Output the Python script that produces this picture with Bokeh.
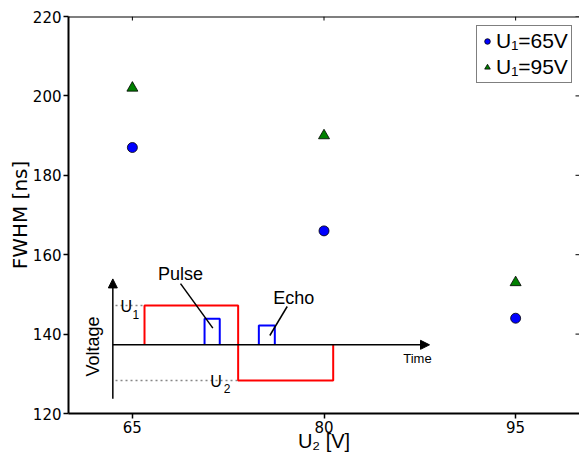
import math
from bokeh.plotting import figure
from bokeh.models import (FixedTicker, Range1d, Legend, LegendItem, Arrow, NormalHead, Span)
from bokeh.core.properties import value
from bokeh.embed import file_html
from bokeh.resources import INLINE

# ---- data ----
u2_values = [65, 80, 95]
fwhm_u1_65 = [187, 166, 144]
fwhm_u1_95 = [202, 190, 153]
x_ticks = [65, 80, 95]
y_ticks = [120, 140, 160, 180, 200, 220]
legend_labels = ["U\u2081=65V", "U\u2081=95V"]
x_min, x_max = 60, 100
y_min, y_max = 120, 220

# ---- inset schematic (drawn in data coordinates) ----
time_axis_x = [63.47, 88.26]
time_axis_y = [137.3, 137.3]
volt_axis_x = [63.47, 63.47]
volt_axis_y = [123.7, 153.9]
red_x = [65.95, 65.95, 73.28, 73.28, 80.72, 80.72]
red_y = [137.3, 147.2, 147.2, 128.3, 128.3, 137.3]
pulse_x = [70.65, 70.65, 71.84, 71.84]
pulse_y = [137.3, 143.85, 143.85, 137.3]
echo_x = [74.9, 74.9, 76.15, 76.15]
echo_y = [137.3, 142.17, 142.17, 137.3]
u1_dot_x = [63.68, 65.95]
u1_dot_y = [147.2, 147.2]
u2_dot_x = [63.68, 73.23]
u2_dot_y = [128.3, 128.3]
pulse_leader_x = [68.77, 71.3]
pulse_leader_y = [152.7, 141.5]
echo_leader_x = [77.12, 75.76]
echo_leader_y = [146.95, 139.65]
label_texts = ["Pulse", "Echo"]
label_x = [67.0, 76.02]
label_y = [153.2, 147.2]
time_label = ["Time"]
time_label_x = [86.2]
time_label_y = [132.5]
u_texts = ["U", "U"]
u_x = [64.07, 71.1]
u_y = [145.4, 126.6]
u_sub_texts = ["1", "2"]
u_sub_x = [65.0, 72.16]
u_sub_y = [143.85, 125.4]
voltage_label = ["Voltage"]
voltage_x = [61.9]
voltage_y = [136.9]

p = figure(width=579, height=456, output_backend="svg", toolbar_location=None,
           x_range=Range1d(x_min, x_max), y_range=Range1d(y_min, y_max),
           min_border_left=68, min_border_right=0, min_border_top=16,
           min_border_bottom=43)
p.background_fill_color = "white"
p.border_fill_color = "white"
p.outline_line_color = None
p.xgrid.grid_line_color = None
p.ygrid.grid_line_color = None

tick_font = "DejaVu Sans"
for ax in p.xaxis:
    ax.ticker = FixedTicker(ticks=x_ticks)
    ax.axis_label = "U\u2082 [V]"
    ax.axis_label_text_font = "Liberation Sans"
    ax.axis_label_text_font_style = "normal"
    ax.axis_label_text_font_size = "20px"
    ax.axis_label_text_color = "black"
    ax.axis_label_standoff = -6
    ax.major_label_text_font = tick_font
    ax.major_label_text_font_size = "15px"
    ax.major_label_text_color = "black"
    ax.major_label_standoff = 2
    ax.major_tick_out = 5
    ax.major_tick_in = 0
    ax.minor_tick_line_color = None
    ax.axis_line_width = 2
    ax.axis_line_color = "black"
    ax.major_tick_line_width = 1.5
    ax.major_tick_line_color = "black"
for ax in p.yaxis:
    ax.ticker = FixedTicker(ticks=y_ticks)
    ax.axis_label = "FWHM [ns]"
    ax.axis_label_text_font = tick_font
    ax.axis_label_text_font_style = "normal"
    ax.axis_label_text_font_size = "20px"
    ax.axis_label_text_color = "black"
    ax.axis_label_standoff = -2
    ax.major_label_text_font = tick_font
    ax.major_label_text_font_size = "15px"
    ax.major_label_text_color = "black"
    ax.major_label_standoff = 2
    ax.major_tick_out = 5
    ax.major_tick_in = 0
    ax.minor_tick_line_color = None
    ax.axis_line_width = 2
    ax.axis_line_color = "black"
    ax.major_tick_line_width = 1.5
    ax.major_tick_line_color = "black"

# top frame line and inward ticks on top / right
p.add_layout(Span(location=y_max, dimension="width", line_color="black", line_width=2))
p.ray(x=x_ticks, y=[y_max] * len(x_ticks), length=4, length_units="screen",
      angle=-math.pi / 2, line_color="black", line_width=1)
p.ray(x=[x_max] * len(y_ticks), y=y_ticks, length=4, length_units="screen",
      angle=math.pi, line_color="black", line_width=1)

# ---- inset ----
p.line(u1_dot_x, u1_dot_y, line_color="#888888", line_width=1.5, line_dash="2 3")
p.line(u2_dot_x, u2_dot_y, line_color="#888888", line_width=1.5, line_dash="2 3")
p.line(pulse_x, pulse_y, line_color="#0000ff", line_width=2)
p.line(echo_x, echo_y, line_color="#0000ff", line_width=2)
p.line(red_x, red_y, line_color="#ff0000", line_width=2)
p.line(pulse_leader_x, pulse_leader_y, line_color="black", line_width=1.5)
p.line(echo_leader_x, echo_leader_y, line_color="black", line_width=1.5)

p.add_layout(Arrow(end=NormalHead(size=9, fill_color="black", line_color="black"),
                   x_start=time_axis_x[0], y_start=time_axis_y[0],
                   x_end=time_axis_x[1], y_end=time_axis_y[1],
                   line_color="black", line_width=1.5))
p.add_layout(Arrow(end=NormalHead(size=9, fill_color="black", line_color="black"),
                   x_start=volt_axis_x[0], y_start=volt_axis_y[0],
                   x_end=volt_axis_x[1], y_end=volt_axis_y[1],
                   line_color="black", line_width=1.5))

arial = value("Liberation Sans")
p.text(label_x, label_y, text=label_texts, text_font=arial, text_font_size=value("18px"),
       text_align="left", text_baseline="alphabetic", text_color="black", y_offset=-8)
p.text(time_label_x, time_label_y, text=time_label, text_font=arial,
       text_font_size=value("13px"), text_align="left", text_baseline="alphabetic",
       text_color="black", y_offset=-5)
p.text(u_x, u_y, text=u_texts, text_font=arial, text_font_size=value("16px"),
       text_align="left", text_baseline="alphabetic", text_color="black", y_offset=-6)
p.text(u_sub_x, u_sub_y, text=u_sub_texts, text_font=arial, text_font_size=value("12px"),
       text_align="left", text_baseline="alphabetic", text_color="black", y_offset=-4)
p.text(voltage_x, voltage_y, text=voltage_label, text_font=arial,
       text_font_size=value("18px"), angle=math.pi / 2, text_align="center",
       text_baseline="middle", text_color="black")

# ---- data points ----
r65 = p.scatter(u2_values, fwhm_u1_65, marker="circle", size=10, fill_color="#0000ff",
                line_color="black", line_width=0.8)
r95 = p.scatter(u2_values, fwhm_u1_95, marker="triangle", size=11, fill_color="#008000",
                line_color="black", line_width=0.8)

legend = Legend(items=[LegendItem(label=legend_labels[0], renderers=[r65]),
                       LegendItem(label=legend_labels[1], renderers=[r95])],
                location=(408, 330), margin=0, padding=3, spacing=2,
                label_text_font="Liberation Sans", label_text_font_size="21px",
                label_text_color="black",
                label_standoff=2, glyph_width=14, glyph_height=22, label_height=22,
                border_line_color="black", border_line_width=1,
                background_fill_color="white", background_fill_alpha=1)
p.add_layout(legend)

open("out.html", "w").write(file_html(p, INLINE))
